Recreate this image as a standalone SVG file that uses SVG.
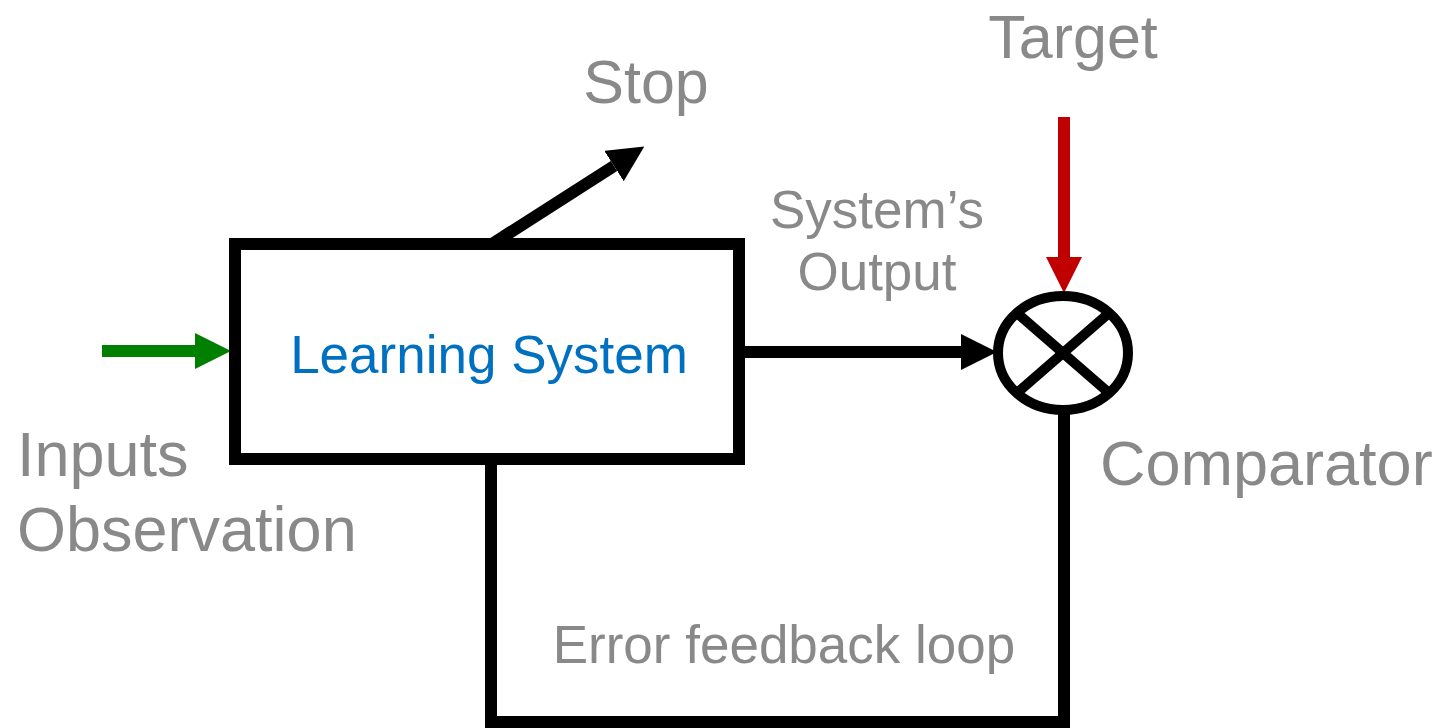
<svg xmlns="http://www.w3.org/2000/svg" width="1443" height="728" viewBox="0 0 1443 728">
<style>
  .lbl { font-family: "Liberation Sans", Arial, sans-serif; fill: #898989; }
  .conn { fill: none; stroke: #000; stroke-width: 12; }
  .box { fill: #fff; stroke: #000; stroke-width: 12; }
</style>
<defs>
  <marker id="hBlack" viewBox="0 0 36 36" refX="0" refY="18" markerWidth="36" markerHeight="36" markerUnits="userSpaceOnUse" orient="auto"><path d="M0,0 L36,18 L0,36 z" fill="#000"/></marker>
  <marker id="hGreen" viewBox="0 0 36 36" refX="0" refY="18" markerWidth="36" markerHeight="36" markerUnits="userSpaceOnUse" orient="auto"><path d="M0,0 L36,18 L0,36 z" fill="#008000"/></marker>
  <marker id="hRed" viewBox="0 0 36 36" refX="0" refY="18" markerWidth="36" markerHeight="36" markerUnits="userSpaceOnUse" orient="auto"><path d="M0,0 L36,18 L0,36 z" fill="#C00000"/></marker>
</defs>
<rect width="1443" height="728" fill="#fff"/>
<g id="connectors">
  <line x1="102" y1="351" x2="195" y2="351" class="conn" stroke="#008000" style="stroke:#008000" marker-end="url(#hGreen)"/>
  <line x1="739" y1="352" x2="961" y2="352" class="conn" marker-end="url(#hBlack)"/>
  <line x1="1064" y1="117" x2="1064" y2="257" class="conn" style="stroke:#C00000" marker-end="url(#hRed)"/>
  <line x1="492" y1="244" x2="614" y2="166" class="conn" marker-end="url(#hBlack)"/>
  <path d="M1064,410 L1064,722 L491,722 L491,459" class="conn"/>
</g>
<g id="learning-system">
  <rect x="235" y="244" width="504" height="215" class="box"/>
  <text x="489" y="373" text-anchor="middle" font-family="Liberation Sans, Arial, sans-serif" font-size="53" fill="#0070C0">Learning System</text>
</g>
<g id="comparator">
  <ellipse cx="1063" cy="353" rx="65" ry="57" fill="#fff" stroke="#000" stroke-width="10"/>
  <line x1="1017" y1="313" x2="1109" y2="393" stroke="#000" stroke-width="10"/>
  <line x1="1109" y1="313" x2="1017" y2="393" stroke="#000" stroke-width="10"/>
  <text x="1100" y="485" class="lbl" font-size="63">Comparator</text>
</g>
<g id="labels">
  <text x="646" y="103" class="lbl" font-size="61" text-anchor="middle">Stop</text>
  <text x="1073" y="58" class="lbl" font-size="61" text-anchor="middle">Target</text>
  <text x="877" y="228" class="lbl" font-size="53" text-anchor="middle">System’s</text>
  <text x="877" y="290" class="lbl" font-size="53" text-anchor="middle">Output</text>
  <text x="17" y="476" class="lbl" font-size="63">Inputs</text>
  <text x="17" y="551" class="lbl" font-size="63">Observation</text>
  <text x="784" y="663" class="lbl" font-size="53" text-anchor="middle">Error feedback loop</text>
</g>
</svg>
